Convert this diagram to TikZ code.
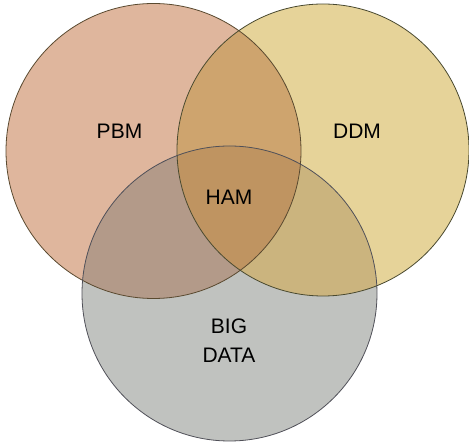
\documentclass[tikz,border=0pt]{standalone}
\usepackage{fontspec}
\setmainfont{Liberation Sans}
\definecolor{pbmc}{HTML}{DFB69D}
\definecolor{ddmc}{HTML}{E6D399}
\definecolor{bdc}{HTML}{C0C2BF}
\definecolor{pdc}{HTML}{CEA46E}
\definecolor{pbc}{HTML}{B39A89}
\definecolor{dbc}{HTML}{CBB47E}
\definecolor{allc}{HTML}{BF9461}
\definecolor{pbmline}{HTML}{5A4A30}
\definecolor{ddmline}{HTML}{4A4A30}
\definecolor{bdline}{HTML}{505058}
\tikzset{
  lab/.style={inner sep=0pt, font=\fontsize{21}{29}\selectfont, text=black, align=center},
  ring/.style={line width=0.8pt}
}
\begin{document}
\begin{tikzpicture}[x=1pt,y=-1pt]
\useasboundingbox (0,0) rectangle (469,443);
\coordinate (P) at (153.5,151);
\coordinate (D) at (323,150);
\coordinate (B) at (229.5,293.5);
\def\rP{147.5pt}\def\rD{146pt}\def\rB{147.5pt}
% single fills
\fill[pbmc] (P) circle[radius=\rP];
\fill[ddmc] (D) circle[radius=\rD];
\fill[bdc] (B) circle[radius=\rB];
% pairwise
\begin{scope}\clip (P) circle[radius=\rP]; \fill[pdc] (D) circle[radius=\rD]; \end{scope}
\begin{scope}\clip (P) circle[radius=\rP]; \fill[pbc] (B) circle[radius=\rB]; \end{scope}
\begin{scope}\clip (D) circle[radius=\rD]; \fill[dbc] (B) circle[radius=\rB]; \end{scope}
% triple
\begin{scope}\clip (P) circle[radius=\rP]; \clip (D) circle[radius=\rD]; \fill[allc] (B) circle[radius=\rB]; \end{scope}
% outlines
\draw[ring, pbmline] (P) circle[radius=\rP];
\draw[ring, ddmline] (D) circle[radius=\rD];
\draw[ring, bdline] (B) circle[radius=\rB];
% labels
\node[lab] (pbm) at (119.5,131) {PBM};
\node[lab] (ddm) at (357,131) {DDM};
\node[lab] (ham) at (229,197.5) {HAM};
\node[lab] (bd) at (229,340.5) {BIG\\DATA};
\end{tikzpicture}
\end{document}
